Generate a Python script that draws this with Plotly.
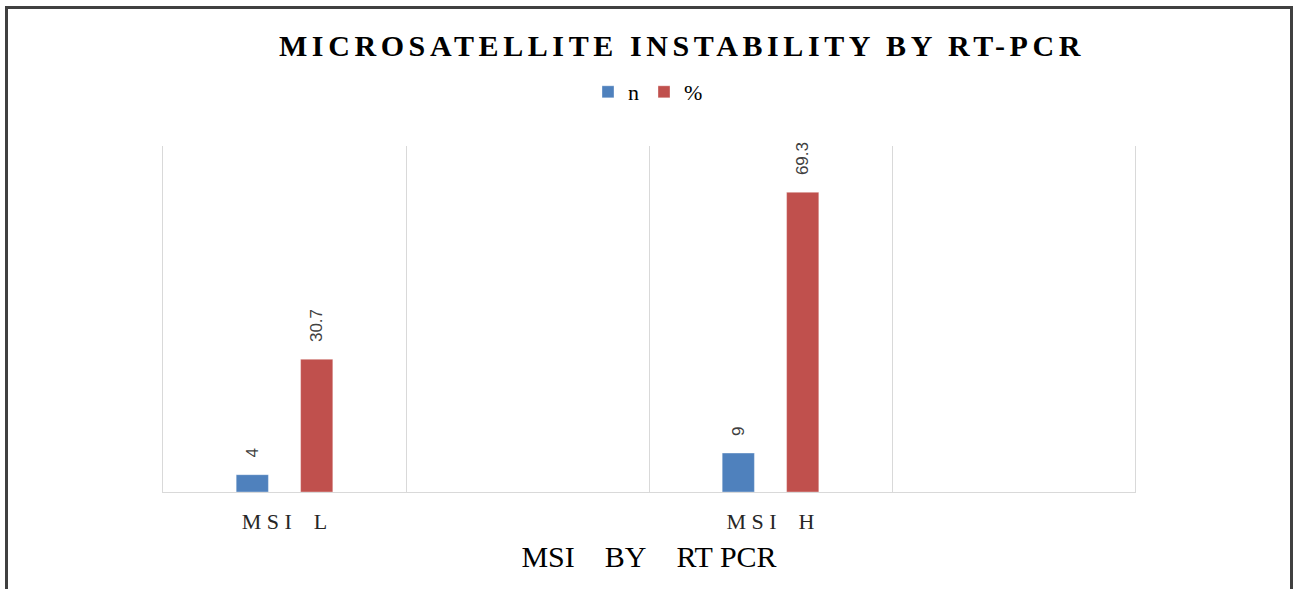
import plotly.graph_objects as go

# Values per group
categories = ["MSI L", "MSI H"]
n_values = [4, 9]
pct_values = [30.7, 69.3]

# The category axis has four slots; the 2nd and 4th stay empty
axis_slots = ["MSI L", "blank_1", "MSI H", "blank_2"]
tick_labels = ["M S I\u00a0\u00a0\u00a0\u00a0L", "", "M S I\u00a0\u00a0\u00a0\u00a0H", ""]

series_names = ["n", "%"]
series_colors = ["#4F81BD", "#C0504D"]

chart_title = "MICROSATELLITE INSTABILITY BY RT-PCR"
x_title = "MSI\u00a0\u00a0\u00a0\u00a0BY\u00a0\u00a0\u00a0\u00a0RT PCR"

W, H = 1297, 589
ML, MR, MT, MB = 163, 162, 146, 97
PW, PH = W - ML - MR, H - MT - MB

SERIF = "Liberation Serif, Times New Roman, serif"
SANS = "Liberation Sans, Arial, sans-serif"

fig = go.Figure()
for name, vals, col in zip(series_names, [n_values, pct_values], series_colors):
    fig.add_trace(go.Bar(
        x=categories, y=vals, name=name,
        marker=dict(color=col, line=dict(color="rgba(255,255,255,0.35)", width=1)),
        texttemplate="\u00a0\u00a0\u00a0%{y}",
        textposition="outside",
        textangle=-90,
        constraintext="none",
        cliponaxis=False,
        textfont=dict(family=SANS, size=17, color="#404040"),
    ))

fig.update_layout(
    width=W, height=H,
    margin=dict(l=ML, r=MR, t=MT, b=MB),
    paper_bgcolor="white", plot_bgcolor="white",
    barmode="group", bargap=0.47, bargroupgap=0.5,
    title=dict(
        text=f'<b><span style="letter-spacing:4.6px">{chart_title}</span></b>',
        x=682 / W, xanchor="center", xref="container",
        y=1 - 45 / H, yanchor="middle", yref="container",
        font=dict(family=SERIF, size=30, color="#000000"),
    ),
    showlegend=True,
    legend=dict(
        orientation="h", x=(648 - ML) / PW, xanchor="center",
        y=(MT + PH - 92) / PH, yanchor="middle",
        font=dict(family=SERIF, size=22, color="#000000"),
        itemwidth=30, bgcolor="rgba(0,0,0,0)",
    ),
    xaxis=dict(
        type="category", categoryorder="array", categoryarray=axis_slots,
        tickvals=axis_slots, ticktext=tick_labels,
        range=[-0.5, len(axis_slots) - 0.5],
        tickson="boundaries", ticks="", showgrid=True,
        gridcolor="#D9D9D9", gridwidth=1,
        showline=True, linecolor="#D9D9D9", linewidth=1,
        tickfont=dict(family=SERIF, size=22, color="#262626"),
        ticklabelstandoff=10,
        title=dict(text=x_title, font=dict(family=SERIF, size=30, color="#000000"), standoff=12),
    ),
    yaxis=dict(
        range=[0, 80], showticklabels=False, ticks="", showgrid=False,
        zeroline=False, showline=True, mirror=True, linecolor="#D9D9D9", linewidth=1,
    ),
)

# Outer frame around the whole chart
fig.add_shape(
    type="rect", xref="paper", yref="paper",
    x0=(6.5 - ML) / PW, x1=(1291.5 - ML) / PW,
    y0=-0.6, y1=(MT + PH - 7.5) / PH,
    line=dict(color="#404040", width=3), fillcolor="rgba(0,0,0,0)", layer="below",
)

fig.write_html("out.html")
